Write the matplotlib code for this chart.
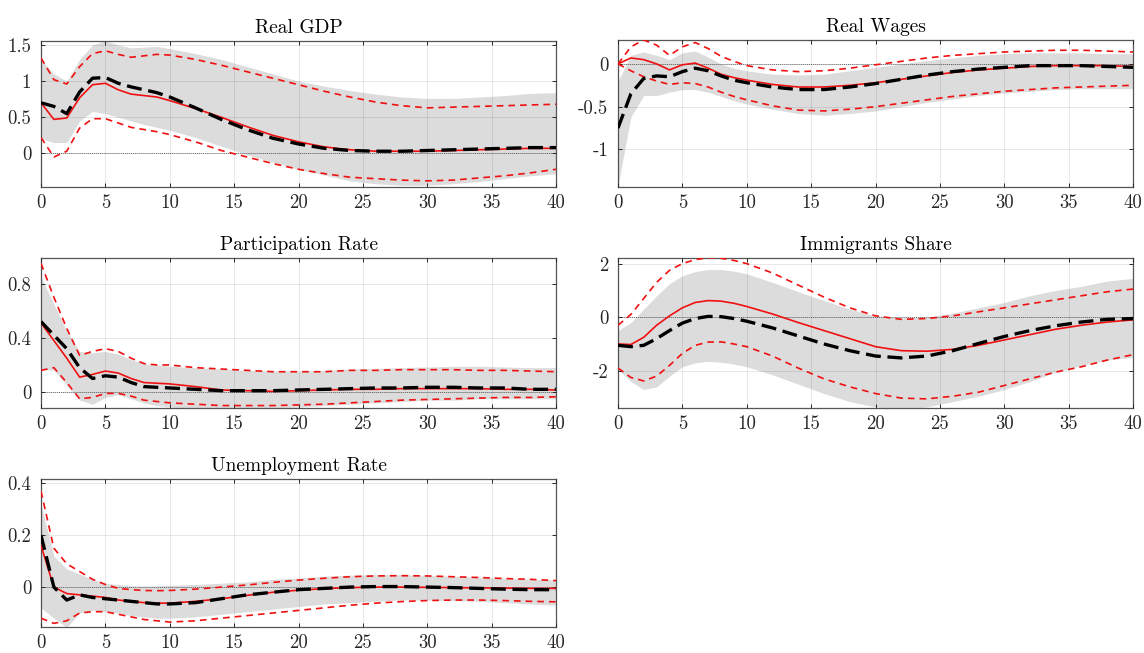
import matplotlib
matplotlib.use("Agg")
import matplotlib.pyplot as plt

plt.rcParams["font.family"] = "serif"
plt.rcParams["font.serif"] = ["cmr10", "DejaVu Serif"]

# horizons (quarters) at which the responses are read
quarters = [0, 1, 2, 3, 4, 5, 6, 7, 8, 9, 10, 12, 14, 16, 18, 20, 22, 24, 26, 28, 30, 32, 34, 36, 38, 40]

# ---- Real GDP
gdp_med = [0.7, 0.65, 0.55, 0.85, 1.04, 1.05, 0.97, 0.92, 0.88, 0.84, 0.78, 0.63, 0.47, 0.33, 0.21, 0.13, 0.07, 0.04, 0.03, 0.03, 0.04, 0.05, 0.06, 0.07, 0.08, 0.08]
gdp_red = [0.7, 0.47, 0.49, 0.77, 0.95, 0.97, 0.88, 0.82, 0.8, 0.78, 0.73, 0.62, 0.5, 0.37, 0.25, 0.16, 0.09, 0.05, 0.03, 0.03, 0.03, 0.04, 0.05, 0.06, 0.07, 0.07]
gdp_red_hi = [1.32, 1.02, 0.96, 1.2, 1.38, 1.42, 1.37, 1.33, 1.35, 1.37, 1.36, 1.3, 1.22, 1.13, 1.04, 0.95, 0.86, 0.78, 0.71, 0.66, 0.63, 0.64, 0.65, 0.66, 0.67, 0.68]
gdp_red_lo = [0.22, -0.05, 0.03, 0.35, 0.48, 0.48, 0.42, 0.36, 0.33, 0.3, 0.26, 0.16, 0.04, -0.05, -0.14, -0.22, -0.28, -0.33, -0.35, -0.37, -0.38, -0.37, -0.34, -0.31, -0.27, -0.22]
gdp_band_hi = [1.3, 1.1, 1.0, 1.3, 1.5, 1.56, 1.5, 1.46, 1.47, 1.48, 1.45, 1.38, 1.3, 1.2, 1.1, 1.0, 0.93, 0.87, 0.82, 0.78, 0.76, 0.76, 0.78, 0.8, 0.83, 0.84]
gdp_band_lo = [0.2, 0.15, 0.15, 0.45, 0.58, 0.55, 0.5, 0.45, 0.4, 0.36, 0.32, 0.22, 0.1, -0.02, -0.12, -0.22, -0.3, -0.38, -0.42, -0.44, -0.44, -0.42, -0.39, -0.35, -0.31, -0.28]

# ---- Real Wages
wage_med = [-0.75, -0.35, -0.17, -0.14, -0.15, -0.09, -0.05, -0.08, -0.14, -0.19, -0.22, -0.27, -0.3, -0.3, -0.27, -0.23, -0.18, -0.13, -0.09, -0.06, -0.04, -0.02, -0.02, -0.02, -0.03, -0.04]
wage_red = [0.0, 0.07, 0.05, 0.0, -0.07, -0.01, 0.01, -0.05, -0.12, -0.16, -0.19, -0.24, -0.27, -0.27, -0.25, -0.22, -0.18, -0.14, -0.1, -0.07, -0.05, -0.03, -0.02, -0.02, -0.02, -0.03]
wage_red_hi = [0.0, 0.2, 0.28, 0.22, 0.1, 0.2, 0.25, 0.18, 0.09, 0.03, -0.02, -0.07, -0.09, -0.08, -0.05, -0.01, 0.03, 0.07, 0.1, 0.12, 0.14, 0.15, 0.16, 0.16, 0.15, 0.14]
wage_red_lo = [0.0, -0.08, -0.15, -0.2, -0.24, -0.22, -0.23, -0.27, -0.33, -0.38, -0.42, -0.49, -0.54, -0.55, -0.53, -0.5, -0.46, -0.42, -0.38, -0.35, -0.32, -0.3, -0.28, -0.27, -0.26, -0.25]
wage_band_hi = [-0.2, 0.1, 0.14, 0.1, 0.05, 0.13, 0.15, 0.08, 0.0, -0.05, -0.08, -0.12, -0.13, -0.12, -0.08, -0.04, 0.0, 0.04, 0.07, 0.1, 0.12, 0.13, 0.13, 0.13, 0.12, 0.12]
wage_band_lo = [-1.42, -0.62, -0.37, -0.37, -0.33, -0.3, -0.3, -0.33, -0.38, -0.43, -0.47, -0.53, -0.58, -0.6, -0.58, -0.55, -0.5, -0.45, -0.41, -0.37, -0.34, -0.32, -0.3, -0.29, -0.29, -0.29]

# ---- Participation Rate
part_med = [0.52, 0.42, 0.32, 0.18, 0.1, 0.12, 0.11, 0.07, 0.04, 0.035, 0.03, 0.02, 0.01, 0.01, 0.01, 0.015, 0.02, 0.025, 0.03, 0.03, 0.035, 0.035, 0.03, 0.03, 0.02, 0.02]
part_red = [0.51, 0.38, 0.25, 0.11, 0.13, 0.155, 0.14, 0.1, 0.07, 0.065, 0.06, 0.04, 0.015, 0.01, 0.005, 0.01, 0.015, 0.02, 0.02, 0.025, 0.025, 0.025, 0.025, 0.02, 0.02, 0.015]
part_red_hi = [0.95, 0.7, 0.47, 0.27, 0.3, 0.32, 0.3, 0.25, 0.21, 0.2, 0.2, 0.18, 0.17, 0.16, 0.15, 0.15, 0.15, 0.16, 0.16, 0.165, 0.165, 0.165, 0.16, 0.16, 0.155, 0.15]
part_red_lo = [0.16, 0.18, 0.07, -0.05, -0.04, -0.01, -0.01, -0.03, -0.06, -0.07, -0.08, -0.09, -0.1, -0.1, -0.1, -0.095, -0.09, -0.08, -0.07, -0.06, -0.055, -0.05, -0.045, -0.04, -0.04, -0.035]
part_band_hi = [0.85, 0.65, 0.45, 0.3, 0.29, 0.3, 0.28, 0.24, 0.21, 0.2, 0.19, 0.18, 0.17, 0.16, 0.155, 0.155, 0.16, 0.17, 0.175, 0.18, 0.185, 0.19, 0.19, 0.185, 0.18, 0.18]
part_band_lo = [0.17, 0.16, 0.05, -0.06, -0.09, -0.04, -0.02, -0.05, -0.08, -0.1, -0.11, -0.13, -0.13, -0.13, -0.12, -0.11, -0.1, -0.09, -0.08, -0.07, -0.06, -0.06, -0.05, -0.05, -0.05, -0.05]

# ---- Immigrants Share
imm_med = [-1.05, -1.1, -1.05, -0.8, -0.5, -0.22, -0.05, 0.03, 0.02, -0.05, -0.15, -0.4, -0.7, -1.0, -1.25, -1.45, -1.52, -1.45, -1.25, -0.98, -0.72, -0.5, -0.32, -0.18, -0.08, -0.05]
imm_red = [-1.0, -1.02, -0.75, -0.3, 0.05, 0.35, 0.55, 0.62, 0.6, 0.52, 0.4, 0.12, -0.2, -0.5, -0.8, -1.1, -1.25, -1.27, -1.2, -1.05, -0.85, -0.65, -0.45, -0.3, -0.18, -0.1]
imm_red_hi = [-0.3, 0.1, 0.7, 1.3, 1.75, 2.0, 2.15, 2.22, 2.2, 2.12, 2.0, 1.65, 1.2, 0.75, 0.35, 0.05, -0.08, -0.05, 0.05, 0.2, 0.35, 0.5, 0.65, 0.8, 0.95, 1.05]
imm_red_lo = [-1.9, -2.25, -2.38, -2.2, -1.8, -1.35, -1.05, -0.93, -0.92, -1.0, -1.1, -1.45, -1.9, -2.3, -2.6, -2.85, -3.02, -3.05, -2.95, -2.8, -2.55, -2.3, -2.05, -1.85, -1.6, -1.4]
imm_band_hi = [-0.5, -0.2, 0.3, 0.8, 1.25, 1.55, 1.7, 1.78, 1.78, 1.72, 1.62, 1.3, 0.95, 0.62, 0.3, 0.05, -0.02, 0.0, 0.15, 0.35, 0.55, 0.8, 1.0, 1.15, 1.35, 1.45]
imm_band_lo = [-1.95, -2.4, -2.7, -2.6, -2.2, -1.85, -1.7, -1.65, -1.68, -1.75, -1.85, -2.15, -2.5, -2.85, -3.15, -3.35, -3.45, -3.35, -3.15, -2.95, -2.7, -2.4, -2.05, -1.8, -1.6, -1.5]

# ---- Unemployment Rate
unem_med = [0.2, 0.0, -0.05, -0.03, -0.04, -0.045, -0.05, -0.055, -0.06, -0.065, -0.065, -0.06, -0.045, -0.03, -0.02, -0.01, -0.005, 0.0, 0.002, 0.002, 0.0, -0.002, -0.005, -0.008, -0.01, -0.01]
unem_red = [0.16, 0.0, -0.025, -0.03, -0.035, -0.04, -0.05, -0.055, -0.06, -0.062, -0.062, -0.055, -0.045, -0.032, -0.02, -0.012, -0.006, -0.002, 0.0, 0.0, -0.001, -0.002, -0.003, -0.004, -0.005, -0.005]
unem_red_hi = [0.37, 0.15, 0.09, 0.06, 0.03, 0.01, -0.005, -0.01, -0.013, -0.014, -0.013, -0.008, 0.0, 0.008, 0.018, 0.027, 0.034, 0.04, 0.043, 0.044, 0.043, 0.04, 0.037, 0.033, 0.03, 0.025]
unem_red_lo = [-0.12, -0.14, -0.13, -0.1, -0.095, -0.095, -0.105, -0.115, -0.125, -0.13, -0.135, -0.13, -0.12, -0.11, -0.1, -0.09, -0.08, -0.07, -0.062, -0.056, -0.052, -0.05, -0.05, -0.052, -0.055, -0.057]
unem_band_hi = [0.32, 0.12, 0.07, 0.05, 0.03, 0.015, 0.01, 0.005, 0.004, 0.005, 0.007, 0.01, 0.015, 0.02, 0.03, 0.035, 0.042, 0.046, 0.048, 0.048, 0.045, 0.042, 0.038, 0.034, 0.03, 0.028]
unem_band_lo = [-0.08, -0.12, -0.155, -0.1, -0.09, -0.095, -0.1, -0.11, -0.115, -0.12, -0.12, -0.115, -0.105, -0.095, -0.085, -0.075, -0.065, -0.06, -0.055, -0.05, -0.05, -0.052, -0.055, -0.06, -0.065, -0.07]

titles = ["Real GDP", "Real Wages", "Participation Rate", "Immigrants Share", "Unemployment Rate"]
x_ticks = [0, 5, 10, 15, 20, 25, 30, 35, 40]
y_ticks = [[0, 0.5, 1, 1.5], [-1, -0.5, 0], [0, 0.4, 0.8], [-2, 0, 2], [0, 0.2, 0.4]]
y_labels = [["0", "0.5", "1", "1.5"], ["-1", "-0.5", "0"], ["0", "0.4", "0.8"], ["-2", "0", "2"], ["0", "0.2", "0.4"]]
y_limits = [(-0.465, 1.555), (-1.44, 0.28), (-0.118, 0.99), (-3.39, 2.21), (-0.154, 0.417)]

panels = [
    (gdp_med, gdp_red, gdp_red_hi, gdp_red_lo, gdp_band_hi, gdp_band_lo),
    (wage_med, wage_red, wage_red_hi, wage_red_lo, wage_band_hi, wage_band_lo),
    (part_med, part_red, part_red_hi, part_red_lo, part_band_hi, part_band_lo),
    (imm_med, imm_red, imm_red_hi, imm_red_lo, imm_band_hi, imm_band_lo),
    (unem_med, unem_red, unem_red_hi, unem_red_lo, unem_band_hi, unem_band_lo),
]

W, H = 1144, 653
# axes boxes in pixels: left, top, right, bottom
boxes = [(41, 41, 556, 187), (618, 40, 1133, 187),
         (41, 258, 556, 408), (618, 258, 1133, 408),
         (41, 479, 556, 627)]

fig = plt.figure(figsize=(W / 100, H / 100), dpi=100)

for i in range(5):
    l, t, r, b = boxes[i]
    ax = fig.add_axes([l / W, 1 - b / H, (r - l) / W, (b - t) / H])
    med, red, red_hi, red_lo, band_hi, band_lo = panels[i]

    ax.fill_between(quarters, band_lo, band_hi, color="#dcdcdc", lw=0, zorder=1)
    ax.axhline(0, color="#707070", lw=0.7, ls=(0, (1, 1)), zorder=2)
    ax.plot(quarters, red_hi, color="#f01010", lw=1.2, ls=(0, (4, 3)), zorder=3)
    ax.plot(quarters, red_lo, color="#f01010", lw=1.2, ls=(0, (4, 3)), zorder=3)
    ax.plot(quarters, red, color="#f01010", lw=1.2, zorder=4)
    ax.plot(quarters, med, color="black", lw=2.4, ls=(0, (4.5, 2)), zorder=5)

    ax.set_xlim(0, 40)
    ax.set_ylim(*y_limits[i])
    ax.set_xticks(x_ticks)
    ax.set_xticklabels([str(v) for v in x_ticks])
    ax.set_yticks(y_ticks[i])
    ax.set_yticklabels(y_labels[i])
    ax.grid(True, color="#262626", alpha=0.11, lw=0.7, zorder=6)
    ax.set_axisbelow(False)
    ax.tick_params(direction="in", length=3, width=0.7, top=True, right=True,
                   labelsize=13.5, colors="#262626")
    ax.tick_params(axis="x", pad=5)
    ax.tick_params(axis="y", pad=7)
    for s in ax.spines.values():
        s.set_color("#555555")
        s.set_linewidth(0.9)
    ax.set_title(titles[i], fontsize=14, pad=6)

fig.savefig("out.png", dpi=100)
